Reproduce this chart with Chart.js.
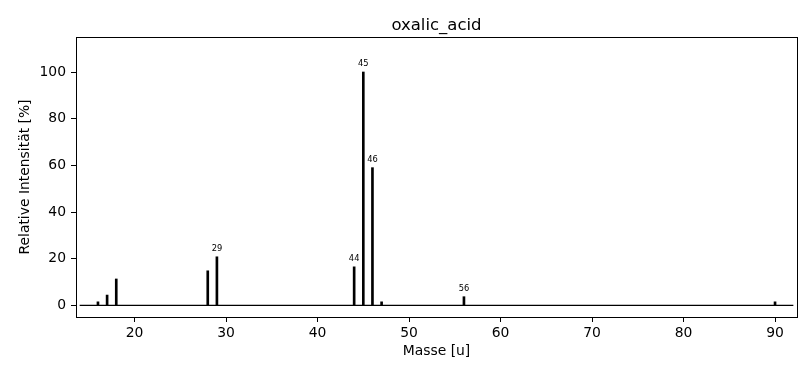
<!DOCTYPE html>
<html>
<head>
<meta charset="utf-8">
<script src="https://cdn.jsdelivr.net/npm/chart.js@4/dist/chart.umd.min.js"></script>
<style>
  html, body { margin: 0; padding: 0; background: #fff; }
  canvas { display: block; }
</style>
</head>
<body>
<canvas id="chart" width="808" height="369"></canvas>
<script>
// mass spectrum of oxalic acid
const masses = [16, 17, 18, 28, 29, 44, 45, 46, 47, 56, 90]
const intensities = [1.5, 4.4, 11.3, 14.8, 20.8, 16.5, 100, 59, 1.5, 3.7, 1.5]
const labelledMasses = [29, 44, 45, 46, 56]
const baselineX = [14, 92]
const xTicks = [20, 30, 40, 50, 60, 70, 80, 90]
const yTicks = [0, 20, 40, 60, 80, 100]
const title = "oxalic_acid"

const font = "DejaVu Sans"

// matplotlib-like frame, title and peak labels
const extras = {
    id: "extras",
    afterDraw(chart) {
        const ctx = chart.ctx
        const area = chart.chartArea
        ctx.save()
        ctx.strokeStyle = "#000"
        ctx.lineWidth = 1
        ctx.strokeRect(Math.round(area.left) + 0.5, Math.round(area.top) + 0.5,
            Math.round(area.right - area.left), Math.round(area.bottom - area.top))

        ctx.fillStyle = "#000"
        ctx.font = "16.5px '" + font + "'"
        ctx.textAlign = "center"
        ctx.textBaseline = "alphabetic"
        ctx.fillText(title, (area.left + area.right) / 2, 30)

        ctx.font = "8.3px '" + font + "'"
        const meta = chart.getDatasetMeta(1)
        meta.data.forEach((bar, i) => {
            if (labelledMasses.includes(masses[i])) {
                ctx.fillText(String(masses[i]), bar.x, bar.y - 6)
            }
        })
        ctx.restore()
    }
}

new Chart(document.getElementById("chart"), {
    type: "bar",
    data: {
        datasets: [
            {
                type: "line",
                data: baselineX.map(x => ({ x: x, y: 0 })),
                borderColor: "#000",
                borderWidth: 1.3,
                pointRadius: 0,
                order: 2
            },
            {
                data: masses.map((m, i) => ({ x: m, y: intensities[i] })),
                backgroundColor: "#000",
                barThickness: 2,
                order: 1
            }
        ]
    },
    plugins: [extras],
    options: {
        responsive: false,
        animation: false,
        devicePixelRatio: 1,
        layout: { padding: { top: 37, right: 11, left: 0, bottom: 0 } },
        plugins: {
            legend: { display: false },
            title: { display: false },
            tooltip: { enabled: false }
        },
        scales: {
            x: {
                type: "linear",
                min: 13.6,
                max: 92.4,
                offset: false,
                afterFit(scale) { scale.height = 52 },
                afterBuildTicks(scale) { scale.ticks = xTicks.map(v => ({ value: v })) },
                grid: { display: true, offset: false, drawOnChartArea: false, drawTicks: true, tickLength: 5, tickColor: "#000", tickWidth: 1 },
                border: { display: true, color: "#000", width: 1 },
                ticks: { color: "#000", padding: 3, maxRotation: 0, autoSkip: false, font: { family: font, size: 13.9 } },
                title: { display: true, text: "Masse [u]", color: "#000", padding: { top: 0, bottom: 9 }, font: { family: font, size: 13.9 } }
            },
            y: {
                min: -5,
                max: 115,
                afterFit(scale) { scale.width = 76 },
                afterBuildTicks(scale) { scale.ticks = yTicks.map(v => ({ value: v })) },
                grid: { display: true, drawOnChartArea: false, drawTicks: true, tickLength: 5, tickColor: "#000", tickWidth: 1 },
                border: { display: true, color: "#000", width: 1 },
                ticks: { color: "#000", padding: 5, font: { family: font, size: 13.9 } },
                title: { display: true, text: "Relative Intensität [%]", color: "#000", padding: { top: 17.5, bottom: 0 }, font: { family: font, size: 13.9 } }
            }
        }
    }
})
</script>
</body>
</html>
